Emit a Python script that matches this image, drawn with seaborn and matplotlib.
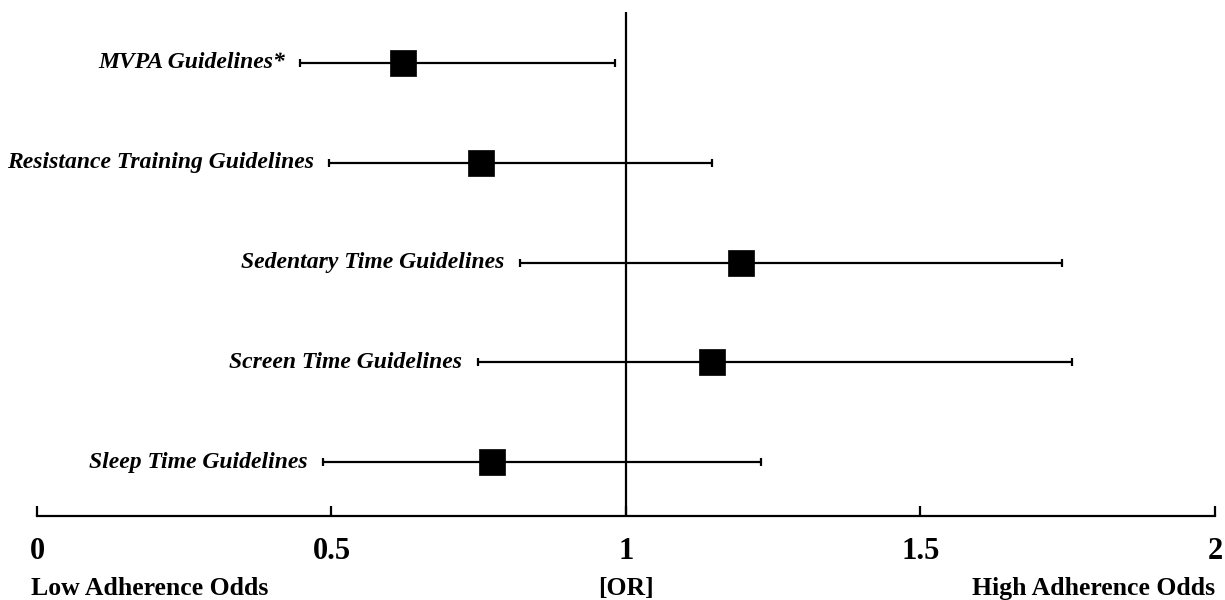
import numpy as np
import pandas as pd
import matplotlib
matplotlib.use("Agg")
import matplotlib.pyplot as plt
import matplotlib.transforms as mtransforms
import seaborn as sns

# odds ratios with 95% CI
guidelines = ["MVPA Guidelines*", "Resistance Training Guidelines",
              "Sedentary Time Guidelines", "Screen Time Guidelines",
              "Sleep Time Guidelines"]
odds_ratio = [0.621, 0.754, 1.195, 1.146, 0.772]
ci_lower = [0.447, 0.496, 0.820, 0.748, 0.485]
ci_upper = [0.981, 1.146, 1.740, 1.757, 1.229]

x_ticks = [0, 0.5, 1, 1.5, 2]
x_ticklabels = ["0", "0.5", "1", "1.5", "2"]

df = pd.DataFrame({"guideline": guidelines, "OR": odds_ratio,
                   "lo": ci_lower, "hi": ci_upper})

sns.set_theme(style="white")
plt.rcParams["font.family"] = ["Liberation Serif", "DejaVu Serif"]
plt.rcParams["text.color"] = "black"
plt.rcParams["xtick.color"] = "black"
plt.rcParams["xtick.labelcolor"] = "black"

fig = plt.figure(figsize=(12.25, 6), dpi=100)
ax = fig.add_axes([0.0302, 0.14, 0.9616, 0.84])

ypos = np.arange(len(df))
# confidence interval whiskers
ax.errorbar(df["OR"], ypos,
            xerr=[df["OR"] - df["lo"], df["hi"] - df["OR"]],
            fmt="none", ecolor="black", elinewidth=1.6,
            capsize=3, capthick=1.6, zorder=2)

# point estimates
sns.scatterplot(data=df, x="OR", y="guideline", marker="s", s=370,
                color="black", edgecolor="black", linewidth=0.5,
                ax=ax, zorder=3, legend=False)

# reference line at OR = 1
ax.axvline(1, color="black", lw=1.6, zorder=1)

ax.set_xlim(0, 2)
ax.set_ylim(len(df) - 0.46, -0.51)

# category labels next to the lower CI end
for i, row in df.iterrows():
    ax.annotate(row["guideline"], xy=(row["lo"], i), xytext=(-11, 0),
                textcoords="offset points", ha="right", va="center",
                fontsize=17, fontweight="bold", fontstyle="italic",
                color="black")

ax.set_yticks([])
ax.set_ylabel("")
ax.set_xlabel("")
ax.set_xticks(x_ticks)
ax.set_xticklabels(x_ticklabels, fontsize=22, fontweight="bold")
ax.tick_params(axis="x", direction="in", length=7, width=1.6,
               pad=15, color="black", labelcolor="black", bottom=True)

for side in ["top", "right", "left"]:
    ax.spines[side].set_visible(False)
ax.spines["bottom"].set_color("black")
ax.spines["bottom"].set_linewidth(1.6)

trans = mtransforms.blended_transform_factory(ax.transData, ax.transAxes)
ax.text(-0.01, -0.143, "Low Adherence Odds", transform=trans, ha="left",
        va="center", fontsize=18.5, fontweight="bold", color="black")
ax.text(1, -0.143, "[OR]", transform=trans, ha="center",
        va="center", fontsize=18.5, fontweight="bold", color="black")
ax.text(2, -0.143, "High Adherence Odds", transform=trans, ha="right",
        va="center", fontsize=18.5, fontweight="bold", color="black")

fig.savefig("out.png", dpi=100, facecolor="white")
